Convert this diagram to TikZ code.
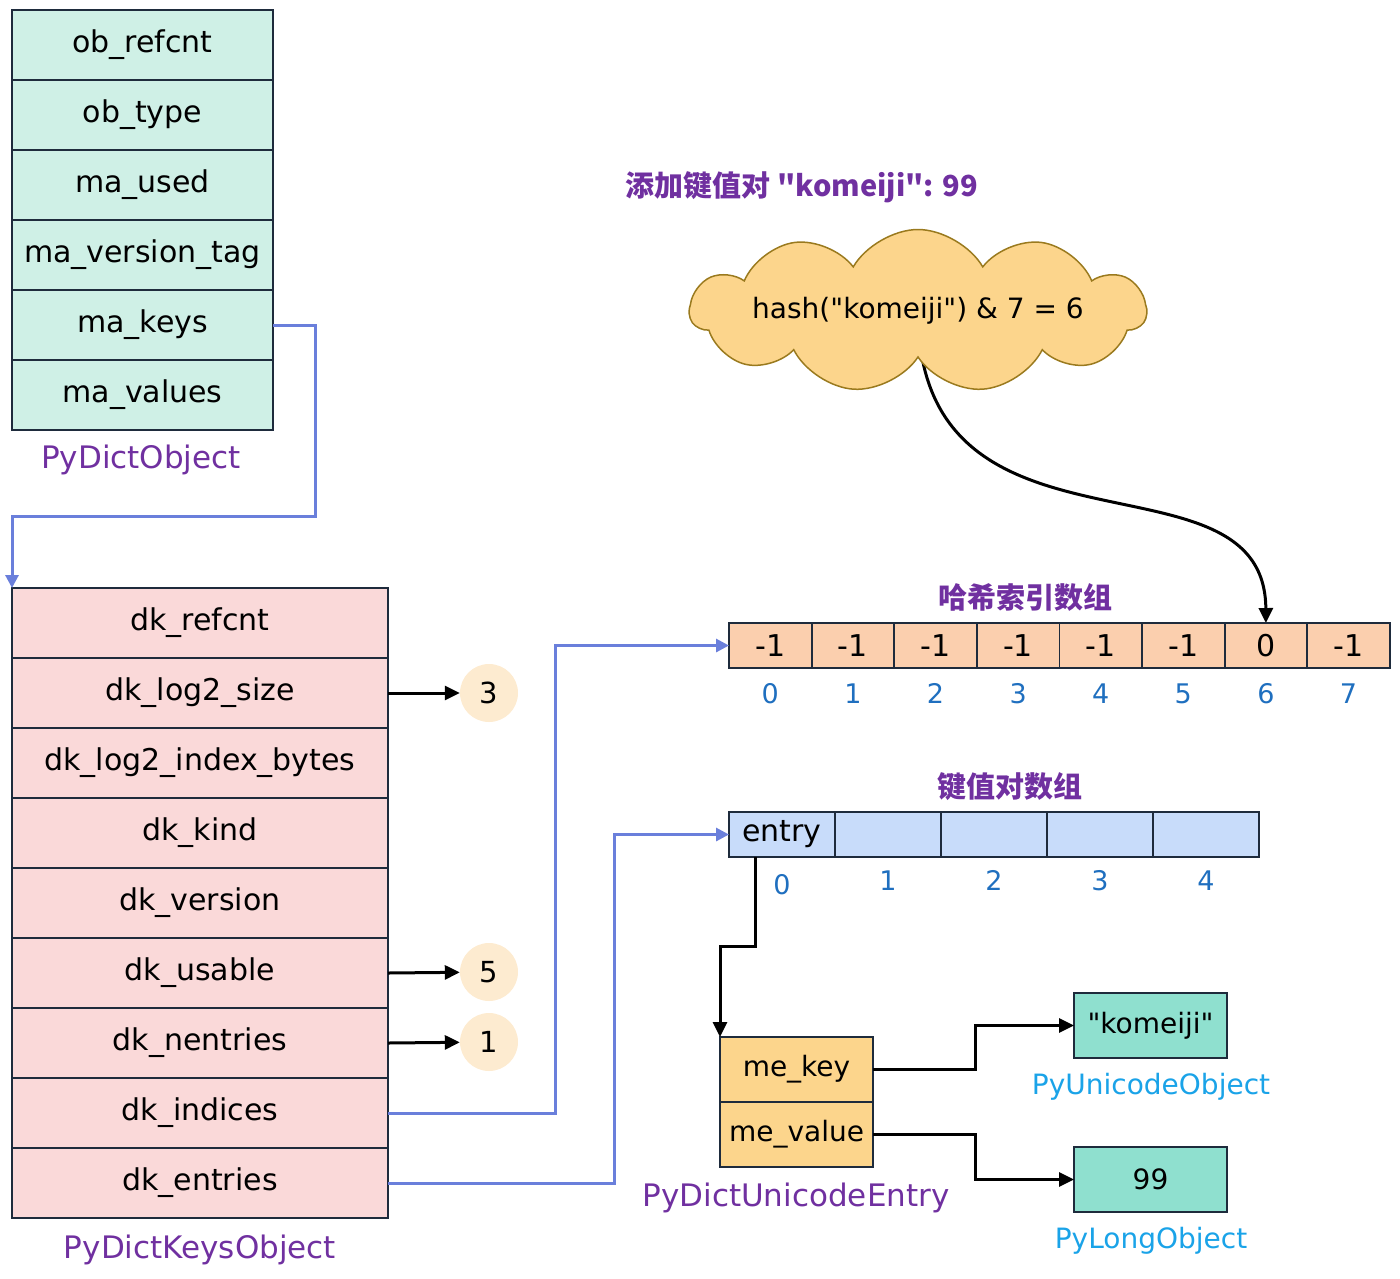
\documentclass[tikz,border=0pt]{standalone}
\usepackage{fontspec}
\setmainfont{DejaVu Sans}
\newfontfamily\cjk{Noto Sans CJK SC}
\usepackage{xcolor}
\usetikzlibrary{arrows.meta, positioning, shapes.symbols, backgrounds}
\definecolor{edgecol}{HTML}{1E2B3C}
\definecolor{dictbg}{HTML}{CFF0E6}
\definecolor{keysbg}{HTML}{FAD9D9}
\definecolor{idxbg}{HTML}{FBCFAE}
\definecolor{entbg}{HTML}{C8DCFA}
\definecolor{pairbg}{HTML}{FCD58C}
\definecolor{objbg}{HTML}{8FE0CF}
\definecolor{ballbg}{HTML}{FDEBD0}
\definecolor{cloudbg}{HTML}{FCD58C}
\definecolor{cloudedge}{HTML}{9A7A1E}
\definecolor{labpurple}{HTML}{7030A0}
\definecolor{idxblue}{HTML}{1F6FBF}
\definecolor{objblue}{HTML}{1AA3E8}
\definecolor{ptrblue}{HTML}{6A7FDB}

\begin{document}
\begin{tikzpicture}[x=1pt, y=-1pt,
    field/.style={draw=edgecol, line width=1.8pt, outer sep=0pt, inner sep=0pt,
      minimum height=70pt, font=\fontsize{30}{34}\selectfont},
    dictfield/.style={field, fill=dictbg, minimum width=261pt},
    keysfield/.style={field, fill=keysbg, minimum width=376pt},
    idxcell/.style={field, fill=idxbg, minimum width=82.6pt, minimum height=45pt},
    entcell/.style={field, fill=entbg, minimum width=106pt, minimum height=45pt},
    pairfield/.style={field, fill=pairbg, minimum width=153pt, minimum height=65pt,
      font=\fontsize{28}{32}\selectfont},
    objbox/.style={field, fill=objbg, minimum width=153pt, minimum height=65pt,
      font=\fontsize{28}{32}\selectfont},
    numball/.style={circle, fill=ballbg, minimum size=58pt, inner sep=0pt,
      font=\fontsize{29}{32}\selectfont},
    typelabel/.style={font=\fontsize{31}{34}\selectfont, text=labpurple},
    objlabel/.style={font=\fontsize{28}{32}\selectfont, text=objblue},
    idxlabel/.style={font=\fontsize{27}{30}\selectfont, text=idxblue},
    arrtitle/.style={font=\cjk\bfseries\fontsize{29}{34}\selectfont, text=labpurple},
    hashcloud/.style={cloud, cloud puffs=11, cloud puff arc=120, cloud ignores aspect,
      draw=cloudedge, line width=1.5pt, fill=cloudbg, minimum width=440pt,
      minimum height=163pt, inner sep=0pt, font=\fontsize{28}{32}\selectfont},
    ptr/.style={draw=ptrblue, line width=3pt, -{Triangle[length=13pt, width=13pt]}},
    link/.style={draw=black, line width=3pt, -{Triangle[length=15pt, width=14pt]}},
    node distance=0pt
  ]
  \useasboundingbox (0,0) rectangle (1400,1278);

  % PyDictObject
  \node[dictfield, anchor=north west] (obrefcnt) at (12,10) {ob\_refcnt};
  \node[dictfield, below=of obrefcnt] (obtype) {ob\_type};
  \node[dictfield, below=of obtype] (maused) {ma\_used};
  \node[dictfield, below=of maused] (maversion) {ma\_version\_tag};
  \node[dictfield, below=of maversion] (makeys) {ma\_keys};
  \node[dictfield, below=of makeys] (mavalues) {ma\_values};
  \node[typelabel] (dictname) at (141,460) {PyDictObject};

  % PyDictKeysObject
  \node[keysfield, anchor=north west] (dkrefcnt) at (12,588) {dk\_refcnt};
  \node[keysfield, below=of dkrefcnt] (dklogsize) {dk\_log2\_size};
  \node[keysfield, below=of dklogsize] (dklogbytes) {dk\_log2\_index\_bytes};
  \node[keysfield, below=of dklogbytes] (dkkind) {dk\_kind};
  \node[keysfield, below=of dkkind] (dkversion) {dk\_version};
  \node[keysfield, below=of dkversion] (dkusable) {dk\_usable};
  \node[keysfield, below=of dkusable] (dknentries) {dk\_nentries};
  \node[keysfield, below=of dknentries] (dkindices) {dk\_indices};
  \node[keysfield, below=of dkindices] (dkentries) {dk\_entries};
  \node[typelabel] (keysname) at (200,1250) {PyDictKeysObject};

  \draw[ptr] (makeys.east) -| (315,516) -| (dkrefcnt.north west);

  \node[numball] (sizeval) at (489,693) {3};
  \node[numball] (usableval) at (489,972) {5};
  \node[numball] (nentval) at (489,1042) {1};
  \draw[link] (dklogsize.east) -- (sizeval);
  \draw[link] (dkusable.east) -- (usableval);
  \draw[link] (dknentries.east) -- (nentval);

  % hash index array
  \node[arrtitle] (idxtitle) at (1025,597) {哈希索引数组};
  \node[idxcell, anchor=north west] (idx0) at (729,623) {-1};
  \node[idxcell, right=of idx0] (idx1) {-1};
  \node[idxcell, right=of idx1] (idx2) {-1};
  \node[idxcell, right=of idx2] (idx3) {-1};
  \node[idxcell, right=of idx3] (idx4) {-1};
  \node[idxcell, right=of idx4] (idx5) {-1};
  \node[idxcell, right=of idx5] (idx6) {0};
  \node[idxcell, right=of idx6] (idx7) {-1};
  \node[idxlabel, below=12pt of idx0] (ilab0) {0};
  \node[idxlabel, below=12pt of idx1] (ilab1) {1};
  \node[idxlabel, below=12pt of idx2] (ilab2) {2};
  \node[idxlabel, below=12pt of idx3] (ilab3) {3};
  \node[idxlabel, below=12pt of idx4] (ilab4) {4};
  \node[idxlabel, below=12pt of idx5] (ilab5) {5};
  \node[idxlabel, below=12pt of idx6] (ilab6) {6};
  \node[idxlabel, below=12pt of idx7] (ilab7) {7};

  % entries array
  \node[arrtitle] (enttitle) at (1010,787) {键值对数组};
  \node[entcell, anchor=north west] (ent0) at (729,812) {entry};
  \node[entcell, right=of ent0] (ent1) {};
  \node[entcell, right=of ent1] (ent2) {};
  \node[entcell, right=of ent2] (ent3) {};
  \node[entcell, right=of ent3] (ent4) {};
  \node[idxlabel, below=14pt of ent0] (elab0) {0};
  \node[idxlabel, below=10pt of ent1] (elab1) {1};
  \node[idxlabel, below=10pt of ent2] (elab2) {2};
  \node[idxlabel, below=10pt of ent3] (elab3) {3};
  \node[idxlabel, below=10pt of ent4] (elab4) {4};

  \draw[ptr] (dkindices.east) -- ++(167,0) |- (idx0.west);
  \draw[ptr] (dkentries.east) -- ++(226,0) |- (ent0.west);

  % hash step
  \node[arrtitle] (addtitle) at (802,187) {添加键值对 "komeiji": 99};
  \node[hashcloud] (hash) at (918,311) {hash(\textquotedbl komeiji\textquotedbl) \& 7 = 6};
  \begin{scope}[on background layer]
    \draw[link] (hash.center) .. controls (918,580) and (1265,440) .. (idx6.north);
  \end{scope}

  % entry and objects
  \node[pairfield, anchor=north west] (mekey) at (720,1037) {me\_key};
  \node[pairfield, below=of mekey] (mevalue) {me\_value};
  \node[typelabel] (entryname) at (796,1198) {PyDictUnicodeEntry};
  \draw[link] ([xshift=26pt]ent0.south west) -- ++(0,89) -| (mekey.north west);

  \node[objbox, anchor=north west] (keyobj) at (1074,993) {\textquotedbl komeiji\textquotedbl};
  \node[objbox, anchor=north west] (valobj) at (1074,1147) {99};
  \node[objlabel] (keyname) at (1151,1087) {PyUnicodeObject};
  \node[objlabel] (valname) at (1151,1241) {PyLongObject};
  \draw[link] (mekey.east) -- ++(102,0) |- (keyobj.west);
  \draw[link] (mevalue.east) -- ++(102,0) |- (valobj.west);
\end{tikzpicture}
\end{document}
